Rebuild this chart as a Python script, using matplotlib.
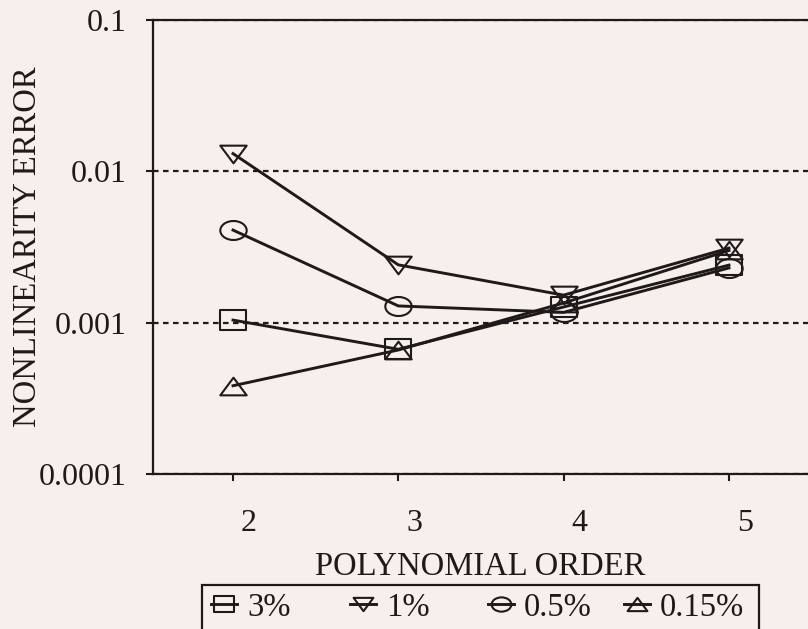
import matplotlib
matplotlib.use("Agg")
import numpy as np
import matplotlib.pyplot as plt
from matplotlib.path import Path
from matplotlib.markers import MarkerStyle
from matplotlib.patches import Rectangle
from matplotlib.ticker import FixedLocator, FixedFormatter, NullLocator
from matplotlib.transforms import ScaledTranslation

# Nonlinearity error versus fitted polynomial order, one series per range
orders = [2, 3, 4, 5]
series_labels = ["3%", "1%", "0.5%", "0.15%"]
err_3pct = [0.00104, 0.000667, 0.00127, 0.00240]
err_1pct = [0.0131, 0.00241, 0.00152, 0.00311]
err_05pct = [0.00409, 0.00129, 0.00117, 0.00230]
err_015pct = [0.000383, 0.000660, 0.00135, 0.00300]

x_ticks = [2, 3, 4, 5]
x_tick_labels = ["2", "3", "4", "5"]
y_ticks = [0.0001, 0.001, 0.01, 0.1]
y_tick_labels = ["0.0001", "0.001", "0.01", "0.1"]

INK = "#1e1a1a"
PAPER = "#f6efec"

plt.rcParams["font.family"] = ["Liberation Serif", "DejaVu Serif"]
plt.rcParams["text.color"] = INK


def wide_marker(verts, codes=None):
    return MarkerStyle(Path(np.asarray(verts, float), codes))


square = wide_marker([(-1, -0.78), (1, -0.78), (1, 0.78), (-1, 0.78), (-1, -0.78)],
                     [Path.MOVETO, Path.LINETO, Path.LINETO, Path.LINETO, Path.CLOSEPOLY])
tri_down = wide_marker([(-1, 0.67), (1, 0.67), (0, -0.67), (-1, 0.67)],
                       [Path.MOVETO, Path.LINETO, Path.LINETO, Path.CLOSEPOLY])
tri_up = wide_marker([(-1, -0.67), (1, -0.67), (0, 0.67), (-1, -0.67)],
                     [Path.MOVETO, Path.LINETO, Path.LINETO, Path.CLOSEPOLY])
uc = Path.unit_circle()
ellipse = MarkerStyle(Path(uc.vertices * np.array([1.0, 0.72]), uc.codes))

fig = plt.figure(figsize=(8.08, 6.29), dpi=100, facecolor=PAPER)
ax = fig.add_axes([153 / 808, 155 / 629, 655 / 808, 454 / 629], facecolor=PAPER)

series = [err_3pct, err_1pct, err_05pct, err_015pct]
markers = [square, tri_down, ellipse, tri_up]
handles = []
for vals, mk, lab in zip(series, markers, series_labels):
    (ln,) = ax.plot(orders, vals, color=INK, lw=2.1, marker=mk, markersize=19,
                    markerfacecolor="none", markeredgecolor=INK, markeredgewidth=1.5,
                    label=lab, zorder=3)
    handles.append(ln)

ax.set_yscale("log")
ax.set_ylim(1e-4, 1e-1)
ax.set_xlim(1.516, 5.478)

ax.yaxis.set_major_locator(FixedLocator(y_ticks))
ax.yaxis.set_major_formatter(FixedFormatter(y_tick_labels))
ax.yaxis.set_minor_locator(NullLocator())
ax.xaxis.set_major_locator(FixedLocator(x_ticks))
ax.xaxis.set_major_formatter(FixedFormatter(x_tick_labels))

ax.tick_params(axis="y", direction="out", length=5, width=1.5, color=INK,
               labelsize=23, labelcolor=INK, pad=14)
ax.tick_params(axis="x", direction="out", length=5, width=1.5, color=INK,
               labelsize=23, labelcolor=INK, pad=20)
for lbl in ax.get_xticklabels():
    lbl.set_transform(lbl.get_transform() + ScaledTranslation(0.16, 0, fig.dpi_scale_trans))

ax.grid(axis="y", which="major", color=INK, lw=1.6, linestyle=(0, (2.5, 2.0)), zorder=1)

for side in ("left", "top", "bottom"):
    ax.spines[side].set_color(INK)
    ax.spines[side].set_linewidth(1.6)
ax.spines["right"].set_visible(False)

ax.set_xlabel("POLYNOMIAL ORDER", fontsize=23.5, color=INK)
ax.xaxis.set_label_coords(0.5, -0.17)
ax.set_ylabel("NONLINEARITY ERROR", fontsize=23.5, color=INK)
ax.yaxis.set_label_coords(-0.168, 0.5)

# one legend entry per column, columns on an even pitch inside a shared box
col_left = [211, 350, 488, 624]
for h, lab, xl in zip(handles, series_labels, col_left):
    fig.legend(handles=[h], labels=[lab], loc="upper left",
               bbox_to_anchor=(xl / 808, 1 - 592 / 629),
               frameon=False, fontsize=23.5, markerscale=0.75,
               handlelength=0.8, handletextpad=0.3,
               borderpad=0.0, borderaxespad=0)

fig.add_artist(Rectangle((202 / 808, -0.05), (759 - 202) / 808, 0.05 + (629 - 585) / 629,
                         transform=fig.transFigure, fill=False, edgecolor=INK, lw=1.6))

fig.savefig("out.png", dpi=100, facecolor=PAPER)
